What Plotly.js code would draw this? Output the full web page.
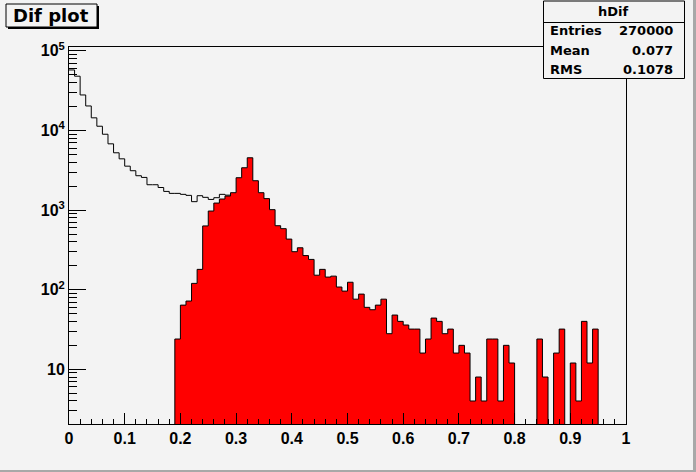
<!DOCTYPE html>
<html>
<head>
<meta charset="utf-8">
<script src="https://cdn.plot.ly/plotly-3.0.1.min.js"></script>
<style>
html,body{margin:0;padding:0;background:#f3f3f3;}
#chart{width:696px;height:472px;}
</style>
</head>
<body>
<div id="chart"></div>
<script>
// ---- histogram binning ----
const nBins = 100;
const xMin = 0;
const xMax = 1;

// ---- black outline histogram (hDif), visible bins 0..28 ----
const blackCounts = [57500, 48000, 27900, 20300, 14400, 11300, 8960, 6790, 5240, 4400,
                     3560, 3120, 2700, 2570, 2080, 2080, 1920, 1715, 1620, 1620,
                     1575, 1530, 1275, 1515, 1445, 1360, 1430, 1575, 1540];

// ---- red filled histogram, bins 0..99 ----
const redCounts = [0, 0, 0, 0, 0, 0, 0, 0, 0, 0,
                   0, 0, 0, 0, 0, 0, 0, 0, 0, 24,
                   64, 72, 120, 180, 632, 972, 1224, 1376, 1500, 1652,
                   2548, 3400, 4536, 2336, 1652, 1392, 1012, 636, 584, 432,
                   300, 336, 268, 240, 152, 180, 144, 148, 108, 96,
                   124, 76, 88, 60, 56, 64, 76, 28, 48, 40,
                   36, 32, 32, 16, 24, 44, 40, 28, 32, 16,
                   20, 16, 4, 8, 4, 24, 24, 4, 20, 12,
                   0, 0, 0, 0, 24, 8, 0, 16, 32, 0,
                   12, 4, 40, 12, 32, 0, 0, 0, 0, 0];

// ---- axis ticks ----
const xTickVals = [0, 0.1, 0.2, 0.3, 0.4, 0.5, 0.6, 0.7, 0.8, 0.9, 1];
const xTickText = ['0', '0.1', '0.2', '0.3', '0.4', '0.5', '0.6', '0.7', '0.8', '0.9', '1'];
const yTickVals = [10, 100, 1000, 10000, 100000];
const yTickText = ['10', '10<sup>2</sup>', '10<sup>3</sup>', '10<sup>4</sup>', '10<sup>5</sup>'];

// ---- stats box ----
const statsTitle = 'hDif';
const statsLabels = ['Entries', 'Mean', 'RMS'];
const statsValues = ['270000', '0.077', '0.1078'];
const plotTitle = 'Dif plot';

// ---- build step outlines ----
const bw = (xMax - xMin) / nBins;
const floorVal = 0.5; // below visible range, used for empty bins
function edge(i){ return +(xMin + i * bw).toFixed(6); }

// black: open step line
const bx = [], by = [];
for (let i = 0; i < blackCounts.length; i++) { bx.push(edge(i)); by.push(blackCounts[i]); }
bx.push(edge(blackCounts.length)); by.push(blackCounts[blackCounts.length - 1]);

// red: closed filled polygon
let first = redCounts.findIndex(v => v > 0);
let last = redCounts.length - 1;
while (last > 0 && redCounts[last] === 0) last--;
const rx = [edge(first)], ry = [floorVal];
for (let i = first; i <= last; i++) { rx.push(edge(i)); ry.push(redCounts[i] > 0 ? redCounts[i] : floorVal); }
rx.push(edge(last + 1)); ry.push(floorVal);

// minor y ticks
const yMinor = [];
for (let d = 1; d <= 10000; d *= 10) for (let k = 2; k <= 9; k++) yMinor.push(k * d);

// pixel -> paper helpers
const L = 69, R = 626, T = 47, B = 424;
const W = R - L, H = B - T;
const px = x => (x - L) / W;
const py = y => (B - y) / H;

const traces = [
  { x: bx, y: by, type: 'scatter', mode: 'lines', line: { shape: 'hv', color: '#000', width: 1 }, hoverinfo: 'skip' },
  { x: rx, y: ry, type: 'scatter', mode: 'lines', line: { shape: 'hv', color: '#000', width: 1 },
    fill: 'toself', fillcolor: '#ff0000', hoverinfo: 'skip' }
];

const statFont = { family: 'DejaVu Sans', size: 13, color: '#000', weight: 'bold' };
const annotations = [
  { xref: 'paper', yref: 'paper', x: px(51), y: py(15.5), text: plotTitle, showarrow: false,
    xanchor: 'center', yanchor: 'middle', font: { family: 'DejaVu Sans', size: 18, color: '#000', weight: 'bold' } },
  { xref: 'paper', yref: 'paper', x: px(613.5), y: py(12), text: statsTitle, showarrow: false,
    xanchor: 'center', yanchor: 'middle', font: statFont }
];
const rowY = [30.5, 50, 69.5];
statsLabels.forEach((lab, i) => {
  const yy = rowY[i];
  annotations.push({ xref: 'paper', yref: 'paper', x: px(548), y: py(yy), text: lab, showarrow: false,
    xanchor: 'left', yanchor: 'middle', font: statFont });
  annotations.push({ xref: 'paper', yref: 'paper', x: px(675), y: py(yy), text: statsValues[i], showarrow: false,
    xanchor: 'right', yanchor: 'middle', font: statFont });
});

const shapes = [
  // canvas bevel border
  { type: 'rect', xref: 'paper', yref: 'paper', x0: px(693), x1: px(697), y0: py(473), y1: py(-1), fillcolor: '#a8a8a8', line: { width: 0 }, layer: 'above' },
  { type: 'rect', xref: 'paper', yref: 'paper', x0: px(-1), x1: px(697), y0: py(473), y1: py(470), fillcolor: '#a8a8a8', line: { width: 0 }, layer: 'above' },
  // title box shadow + box
  { type: 'rect', xref: 'paper', yref: 'paper', x0: px(8), x1: px(99), y0: py(29), y1: py(6), fillcolor: '#000', line: { width: 0 }, layer: 'above' },
  { type: 'rect', xref: 'paper', yref: 'paper', x0: px(6), x1: px(97), y0: py(27), y1: py(4), fillcolor: '#f3f3f3', line: { color: '#000', width: 1 }, layer: 'above' },
  // stats box
  { type: 'rect', xref: 'paper', yref: 'paper', x0: px(543.5), x1: px(684.5), y0: py(78.5), y1: py(1), fillcolor: '#f3f3f3', line: { color: '#000', width: 1 }, layer: 'above' },
  { type: 'line', xref: 'paper', yref: 'paper', x0: px(543.5), x1: px(684.5), y0: py(22.5), y1: py(22.5), line: { color: '#000', width: 1 }, layer: 'above' }
];

const tickFont = { family: 'Liberation Sans', size: 16, color: '#000', weight: 'bold' };
const layout = {
  width: 696, height: 472,
  margin: { l: L, r: 696 - R, t: T, b: 472 - B, pad: 0 },
  paper_bgcolor: '#f3f3f3', plot_bgcolor: '#f3f3f3',
  showlegend: false,
  xaxis: {
    range: [xMin, xMax], showgrid: false, zeroline: false,
    showline: true, linecolor: '#000', linewidth: 1, mirror: true,
    ticks: 'inside', ticklen: 11, tickcolor: '#000', tickwidth: 1,
    tickvals: xTickVals, ticktext: xTickText, tickfont: tickFont,
    minor: { ticks: 'inside', ticklen: 5, dtick: 0.02, tick0: 0, tickcolor: '#000', showgrid: false }
  },
  yaxis: {
    type: 'log', range: [0.313, 5.048], showgrid: false, zeroline: false,
    showline: true, linecolor: '#000', linewidth: 1, mirror: true,
    ticks: 'inside', ticklen: 17, tickcolor: '#000', tickwidth: 1,
    tickvals: yTickVals, ticktext: yTickText, tickfont: tickFont,
    minor: { ticks: 'inside', ticklen: 8, tickvals: yMinor, tickcolor: '#000', showgrid: false }
  },
  shapes: shapes,
  annotations: annotations
};

Plotly.newPlot('chart', traces, layout, { staticPlot: true, displayModeBar: false });
</script>
</body>
</html>
